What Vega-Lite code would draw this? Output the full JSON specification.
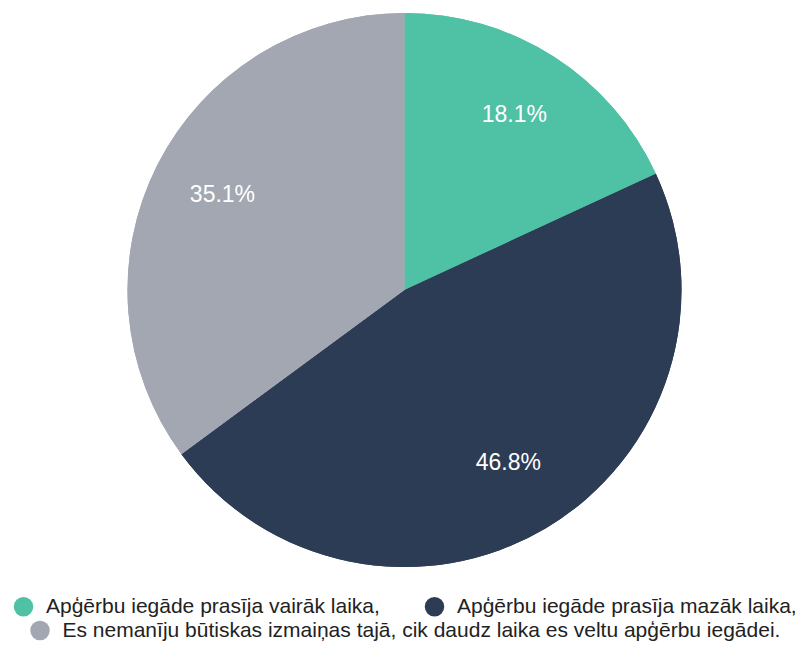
{
  "$schema": "https://vega.github.io/schema/vega-lite/v6.json",
  "width": 789,
  "height": 556,
  "padding": {"left": 10, "top": 12, "right": 0, "bottom": 0},
  "background": "white",
  "data": {
    "values": [
      {"kategorija": "Apģērbu iegāde prasīja vairāk laika,", "procenti": 18.1, "sec": 1, "label": "18.1%"},
      {"kategorija": "Apģērbu iegāde prasīja mazāk laika,", "procenti": 46.8, "sec": 2, "label": "46.8%"},
      {"kategorija": "Es nemanīju būtiskas izmaiņas tajā, cik daudz laika es veltu apģērbu iegādei.", "procenti": 35.1, "sec": 3, "label": "35.1%"}
    ]
  },
  "encoding": {
    "theta": {"field": "procenti", "type": "quantitative", "stack": true},
    "order": {"field": "sec", "type": "quantitative"}
  },
  "layer": [
    {
      "mark": {"type": "arc", "outerRadius": 277},
      "encoding": {
        "color": {
          "field": "kategorija",
          "type": "nominal",
          "scale": {
            "domain": ["Apģērbu iegāde prasīja vairāk laika,", "Apģērbu iegāde prasīja mazāk laika,", "Es nemanīju būtiskas izmaiņas tajā, cik daudz laika es veltu apģērbu iegādei."],
            "range": ["#4fc2a5", "#2d3c55", "#a2a7b2"]
          },
          "legend": {
            "values": ["Apģērbu iegāde prasīja vairāk laika,", "Apģērbu iegāde prasīja mazāk laika,"],
            "title": null,
            "orient": "bottom",
            "direction": "horizontal",
            "columnPadding": 44
          }
        }
      }
    },
    {
      "mark": {"type": "arc", "outerRadius": 277},
      "encoding": {
        "color": {
          "field": "kategorija",
          "type": "nominal",
          "scale": {
            "domain": ["Apģērbu iegāde prasīja vairāk laika,", "Apģērbu iegāde prasīja mazāk laika,", "Es nemanīju būtiskas izmaiņas tajā, cik daudz laika es veltu apģērbu iegādei."],
            "range": ["#4fc2a5", "#2d3c55", "#a2a7b2"]
          },
          "legend": {
            "values": ["Es nemanīju būtiskas izmaiņas tajā, cik daudz laika es veltu apģērbu iegādei."],
            "title": null,
            "orient": "bottom",
            "direction": "horizontal"
          }
        }
      }
    },
    {
      "mark": {"type": "text", "radius": 204, "dy": -3, "fill": "white", "fontSize": 23, "font": "Liberation Sans"},
      "encoding": {
        "text": {"field": "label", "type": "nominal"}
      }
    }
  ],
  "resolve": {"scale": {"color": "independent"}},
  "config": {
    "view": {"stroke": null},
    "legend": {
      "symbolType": "circle",
      "symbolSize": 380,
      "labelFont": "Liberation Sans",
      "labelFontSize": 21,
      "labelColor": "#222222",
      "labelLimit": 800,
      "labelOffset": 12,
      "symbolStrokeWidth": 0,
      "offset": 28,
      "layout": {"bottom": {"anchor": "middle", "direction": "vertical", "center": true, "margin": 3}}
    }
  }
}
